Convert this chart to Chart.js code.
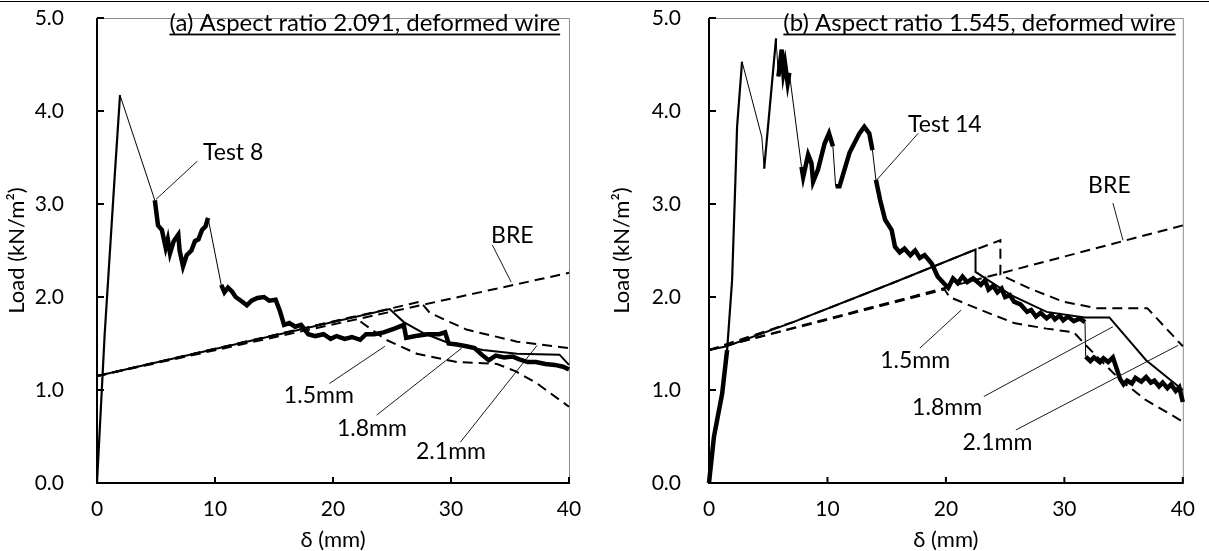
<!DOCTYPE html>
<html lang="en">
<head>
  <meta charset="UTF-8" />
  <title>Load vs deflection, deformed wire</title>
  <script src="https://cdn.jsdelivr.net/npm/chart.js"></script>
  <style>
    body {
      margin: 0;
      background: #fff;
      width: 1209px;
      height: 551px;
      overflow: hidden;
      position: relative;
      font-family: Lato, sans-serif;
    }
    #topRule {
      position: absolute;
      left: 0;
      top: 1px;
      width: 1209px;
      height: 1px;
      background: #000;
    }
    .panel {
      position: absolute;
      top: 0;
      height: 551px;
    }
    #panelA { left: 0; width: 605px; }
    #panelB { left: 605px; width: 604px; }
  </style>
</head>
<body>
  <div id="topRule"></div>
  <div class="panel" id="panelA"><canvas id="chartA"></canvas></div>
  <div class="panel" id="panelB"><canvas id="chartB"></canvas></div>

  <script>
    // axis ticks
    const xTicks = [0, 10, 20, 30, 40];
    const yTicks = [0, 1, 2, 3, 4, 5];

    // ---- panel (a): aspect ratio 2.091 ----
    const test8 = [
      [0, 0], [0.65, 1.6], [1.5, 3.3], [1.95, 4.17], [4.9, 3.04], [5.17, 2.77],
      [5.5, 2.72], [5.82, 2.53], [6.0, 2.62], [6.19, 2.47], [6.5, 2.6], [6.89, 2.67],
      [7.0, 2.5], [7.29, 2.33], [7.6, 2.45], [8.0, 2.5], [8.3, 2.6], [8.6, 2.62],
      [8.9, 2.72], [9.2, 2.76], [9.41, 2.85], [10.53, 2.13], [10.8, 2.05], [11.1, 2.1],
      [11.44, 2.06], [11.75, 2.0], [12.2, 1.96], [12.7, 1.91], [13.1, 1.96], [13.6, 1.99],
      [14.15, 2.0], [14.6, 1.96], [15.14, 1.97], [15.5, 1.85], [15.85, 1.7], [16.3, 1.72],
      [16.8, 1.68], [17.3, 1.7], [17.9, 1.6], [18.5, 1.58], [19.2, 1.6], [19.8, 1.55],
      [20.3, 1.58], [21, 1.55], [21.6, 1.57], [22.3, 1.54], [22.8, 1.6], [23.5, 1.6],
      [24.3, 1.62], [25.2, 1.66], [26.0, 1.7], [26.2, 1.56], [27, 1.58], [28, 1.6],
      [29.0, 1.6], [29.5, 1.62], [29.8, 1.5], [30.5, 1.49], [31.3, 1.47], [32, 1.45],
      [32.6, 1.38], [33.2, 1.32], [33.8, 1.37], [34.5, 1.35], [35.2, 1.36], [35.8, 1.33],
      [36.5, 1.3], [37.2, 1.3], [38, 1.28], [38.8, 1.27], [39.5, 1.25], [40, 1.22]
    ];
    const breA = [[0, 1.15], [40, 2.26]];
    const mm15A = [
      [0, 1.15], [21.8, 1.79], [22.5, 1.72], [24.5, 1.54], [27.1, 1.39], [30.5, 1.3],
      [33.9, 1.28], [35.5, 1.2], [37.3, 1.07], [40, 0.82]
    ];
    const mm18A = [
      [0, 1.15], [24.8, 1.87], [26, 1.73], [27.7, 1.61], [29.9, 1.5], [32.7, 1.43],
      [35.6, 1.39], [39.2, 1.38], [40, 1.27]
    ];
    const mm21A = [
      [0, 1.15], [27.4, 1.95], [28.2, 1.83], [31.3, 1.65], [35.6, 1.52], [40, 1.45]
    ];

    // ---- panel (b): aspect ratio 1.545 ----
    const test14 = [
      [0, 0], [0.42, 0.5], [1.11, 0.96], [1.53, 1.43], [1.95, 2.18], [2.23, 3.26],
      [2.37, 3.83], [2.79, 4.53], [4.46, 3.72], [4.66, 3.38], [5.66, 4.78], [5.86, 4.37],
      [6.14, 4.66], [6.28, 4.41], [6.42, 4.51], [6.64, 4.3], [6.78, 4.41], [7.81, 3.4],
      [7.95, 3.29], [8.37, 3.53], [8.65, 3.44], [8.79, 3.24], [9.2, 3.37], [9.76, 3.65],
      [10.13, 3.76], [10.46, 3.62], [10.69, 3.19], [11.02, 3.19], [11.86, 3.55], [12.7, 3.76],
      [13.11, 3.83], [13.53, 3.76], [13.8, 3.58], [14.09, 3.26], [14.45, 3.04], [14.87, 2.83],
      [15.42, 2.72], [15.7, 2.54], [16.1, 2.48], [16.5, 2.52], [17.0, 2.45], [17.4, 2.5],
      [17.8, 2.42], [18.2, 2.45], [18.8, 2.36], [19.3, 2.22], [19.8, 2.15], [20.2, 2.1],
      [20.6, 2.2], [21.0, 2.15], [21.4, 2.22], [21.8, 2.16], [22.3, 2.2], [22.95, 2.13],
      [23.3, 2.18], [23.6, 2.08], [24.0, 2.12], [24.35, 2.05], [24.7, 2.09], [25.0, 2.0],
      [25.4, 2.02], [25.75, 1.95], [26.3, 1.92], [26.86, 1.84], [27.2, 1.86], [27.6, 1.79],
      [28.0, 1.83], [28.5, 1.77], [28.9, 1.81], [29.2, 1.76], [29.6, 1.8], [29.9, 1.75],
      [30.3, 1.79], [30.8, 1.74], [31.3, 1.77], [31.74, 1.73], [31.8, 1.36], [32.2, 1.31],
      [32.5, 1.35], [33.0, 1.3], [33.3, 1.34], [33.7, 1.3], [34.1, 1.35], [34.7, 1.12],
      [35.0, 1.06], [35.3, 1.1], [35.7, 1.07], [36.0, 1.13], [36.5, 1.09], [36.9, 1.14],
      [37.3, 1.08], [37.6, 1.1], [38.0, 1.04], [38.3, 1.08], [38.7, 1.02], [39.0, 1.06],
      [39.4, 0.99], [39.7, 1.03], [40, 0.87]
    ];
    const breB = [[0, 1.43], [40, 2.77]];
    const mm15B = [
      [0, 1.43], [19.9, 2.08], [20.3, 2.0], [22.95, 1.86], [25.75, 1.72], [28.5, 1.66],
      [30.8, 1.62], [31.9, 1.47], [34.7, 1.11], [36.9, 0.89], [40, 0.66]
    ];
    const mm18B = [
      [0, 1.43], [1.5, 1.47], [7.1, 1.73], [15.5, 2.15], [22.5, 2.51], [22.5, 2.27],
      [25.5, 2.02], [28.5, 1.84], [31.7, 1.78], [33.8, 1.78], [36.9, 1.32], [40, 1.0]
    ];
    const mm21B = [
      [0, 1.43], [7.1, 1.73], [15.5, 2.15], [22.5, 2.51], [24.6, 2.61], [24.6, 2.24],
      [27.1, 2.09], [29.9, 1.95], [32.7, 1.88], [37.0, 1.88], [40, 1.47]
    ];

    // annotation text and leader lines (data coordinates)
    const notesA = [
      { text: "Test 8", x: 8.98, y: 3.55, align: "left" },
      { text: "BRE", x: 35.2, y: 2.66, align: "center" },
      { text: "1.5mm", x: 18.8, y: 0.94, align: "center" },
      { text: "1.8mm", x: 23.3, y: 0.59, align: "center" },
      { text: "2.1mm", x: 30.0, y: 0.34, align: "center" }
    ];
    const leadersA = [
      [[8.5, 3.46], [5.0, 3.05]],
      [[33.5, 2.56], [35.1, 2.16]],
      [[19.7, 1.07], [24.4, 1.47]],
      [[23.7, 0.73], [30.9, 1.45]],
      [[30.8, 0.44], [37.3, 1.48]]
    ];
    const notesB = [
      { text: "Test 14", x: 16.8, y: 3.85, align: "left" },
      { text: "BRE", x: 33.8, y: 3.2, align: "center" },
      { text: "1.5mm", x: 17.4, y: 1.32, align: "center" },
      { text: "1.8mm", x: 20.1, y: 0.81, align: "center" },
      { text: "2.1mm", x: 24.35, y: 0.43, align: "center" }
    ];
    const leadersB = [
      [[17.66, 3.76], [14.03, 3.24]],
      [[34.1, 3.01], [34.95, 2.61]],
      [[17.8, 1.45], [21.3, 1.86]],
      [[23.2, 0.93], [34.1, 1.68]],
      [[25.9, 0.57], [39.6, 1.48]]
    ];

    const FONT = "Lato, 'Open Sans', sans-serif";
    const toXY = arr => arr.map(p => ({ x: p[0], y: p[1] }));

    // draws the plot frame with inward ticks, like the spreadsheet original
    const framePlugin = {
      id: "frame",
      beforeDatasetsDraw(chart) {
        const { ctx, chartArea: a, scales: { x, y } } = chart;
        ctx.save();
        ctx.strokeStyle = "#8c8c8c";
        ctx.lineWidth = 1;
        ctx.beginPath();
        ctx.moveTo(a.left, a.top + 0.5);
        ctx.lineTo(a.right + 0.5, a.top + 0.5);
        ctx.lineTo(a.right + 0.5, a.bottom);
        ctx.stroke();

        ctx.strokeStyle = "#000";
        ctx.lineWidth = 2;
        ctx.beginPath();
        ctx.moveTo(a.left, a.top);
        ctx.lineTo(a.left, a.bottom);
        ctx.lineTo(a.right + 1, a.bottom);
        xTicks.forEach(v => {
          const px = x.getPixelForValue(v);
          ctx.moveTo(px, a.bottom);
          ctx.lineTo(px, a.bottom - 6);
        });
        yTicks.forEach(v => {
          const py = y.getPixelForValue(v);
          ctx.moveTo(a.left, py);
          ctx.lineTo(a.left + 7, py);
        });
        ctx.stroke();
        ctx.restore();
      }
    };

    // labels, and the underlined panel caption
    const notesPlugin = {
      id: "notes",
      afterDatasetsDraw(chart, args, opts) {
        const { ctx, scales: { x, y } } = chart;
        ctx.save();
        ctx.fillStyle = "#000";
        ctx.textBaseline = "middle";
        ctx.font = "23px " + FONT;
        opts.notes.forEach(n => {
          ctx.textAlign = n.align;
          ctx.fillText(n.text, x.getPixelForValue(n.x), y.getPixelForValue(n.y));
        });
        // caption
        const cx = x.getPixelForValue(opts.caption.x);
        const cy = y.getPixelForValue(opts.caption.y);
        ctx.font = "24px " + FONT;
        ctx.textAlign = "right";
        ctx.fillText(opts.caption.text, cx, cy);
        const w = ctx.measureText(opts.caption.text).width;
        ctx.fillRect(cx - w, cy + 10, w, 1.8);
        ctx.restore();
      }
    };

    function lineSet(points, dashed, width) {
      return {
        data: toXY(points),
        borderColor: "#000",
        borderWidth: width,
        borderDash: dashed ? [10, 6] : [],
        pointRadius: 0,
        tension: 0,
        fill: false
      };
    }

    function buildChart(id, cfg) {
      const sets = [];
      cfg.leaders.forEach(l => sets.push(lineSet(l, false, 0.9)));
      sets.push(lineSet(cfg.bre, true, 2));
      sets.push(lineSet(cfg.mm15, true, 2));
      sets.push(lineSet(cfg.mm21, true, 2));
      sets.push(lineSet(cfg.mm18, false, 2));
      // test record: thin where the load drops away or climbs fast, a noisy band elsewhere
      const test = lineSet(cfg.test, false, cfg.band);
      test.segment = {
        borderWidth: c => {
          const dx = c.p1.parsed.x - c.p0.parsed.x;
          const dy = c.p1.parsed.y - c.p0.parsed.y;
          if (dy < -0.28) return 1;
          if (dy > 1.2 * dx) return 2.2;
          return cfg.band;
        }
      };
      sets.push(test);

      return new Chart(document.getElementById(id), {
        type: "line",
        data: { datasets: sets },
        plugins: [framePlugin, notesPlugin],
        options: {
          responsive: true,
          maintainAspectRatio: false,
          animation: false,
          layout: { padding: { left: 0, top: 18, right: cfg.rightPad, bottom: 0 } },
          plugins: {
            legend: { display: false },
            tooltip: { enabled: false },
            notes: { notes: cfg.notes, caption: cfg.caption }
          },
          datasets: { line: { clip: 4 } },
          scales: {
            x: {
              type: "linear",
              min: 0,
              max: 40,
              afterBuildTicks: s => { s.ticks = xTicks.map(v => ({ value: v })); },
              afterFit: s => { s.height = 68; },
              grid: { display: false, drawTicks: false },
              border: { display: false },
              ticks: { color: "#000", font: { family: FONT, size: 21 }, padding: 14, maxRotation: 0 },
              title: {
                display: true,
                text: "δ (mm)",
                color: "#000",
                font: { family: FONT, size: 22 },
                padding: { top: 0, bottom: -2 }
              }
            },
            y: {
              type: "linear",
              min: 0,
              max: 5,
              afterBuildTicks: s => { s.ticks = yTicks.map(v => ({ value: v })); },
              afterFit: s => {
                s.width = cfg.yWidth;
                // the label gap must not push the plot area down
                s.paddingTop = 0;
                s.paddingBottom = 0;
              },
              grid: { display: false, drawTicks: false },
              border: { display: false },
              ticks: {
                color: "#000",
                font: { family: FONT, size: 21 },
                padding: cfg.yGap,
                callback: v => v.toFixed(1)
              },
              title: {
                display: true,
                text: "Load (kN/m²)",
                color: "#000",
                font: { family: FONT, size: 22 },
                padding: { top: 4, bottom: 0 }
              }
            }
          }
        }
      });
    }

    buildChart("chartA", {
      test: test8, bre: breA, mm15: mm15A, mm18: mm18A, mm21: mm21A,
      leaders: leadersA, notes: notesA,
      caption: { text: "(a) Aspect ratio 2.091, deformed wire", x: 39.25, y: 4.94 },
      yWidth: 97, yGap: 33, rightPad: 36, band: 4.5
    });

    buildChart("chartB", {
      test: test14, bre: breB, mm15: mm15B, mm18: mm18B, mm21: mm21B,
      leaders: leadersB, notes: notesB,
      caption: { text: "(b) Aspect ratio 1.545, deformed wire", x: 39.4, y: 4.94 },
      yWidth: 104, yGap: 28, rightPad: 22, band: 4.5
    });
  </script>
</body>
</html>
